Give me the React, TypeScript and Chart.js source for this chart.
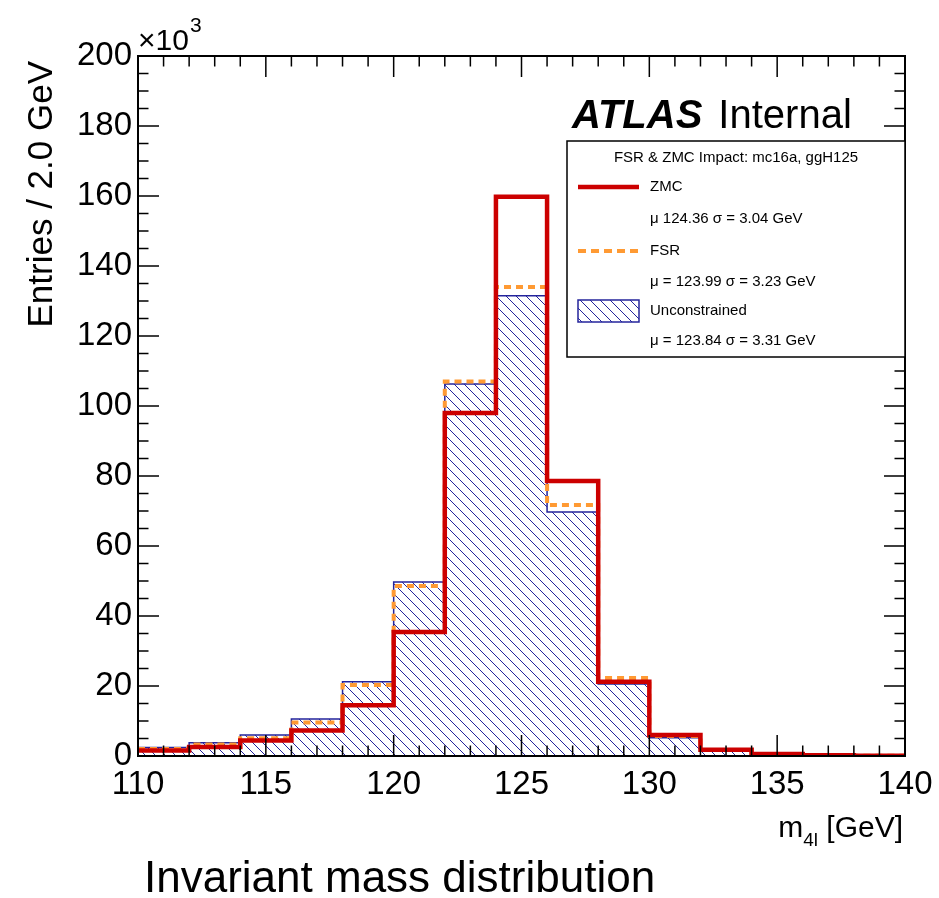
import React, { useEffect, useRef } from 'react';
import { Chart, registerables } from 'chart.js';

Chart.register(...registerables);

// Bin edges in GeV (2 GeV bins)
const binEdges = [110, 112, 114, 116, 118, 120, 122, 124, 126, 128, 130, 132, 134, 136, 138, 140];
// Entries per bin, in units of 10^3
const zmcValues = [1.6, 2.6, 4.4, 7.3, 14.5, 35.4, 98.0, 159.8, 78.6, 21.2, 6.0, 1.8, 0.6, 0.2, 0.1];
const fsrValues = [2.0, 3.3, 5.1, 9.6, 20.3, 48.6, 107.0, 134.0, 71.7, 22.3, 5.7, 1.7, 0.5, 0.2, 0.1];
const unconstrainedValues = [2.4, 3.8, 6.0, 10.6, 21.2, 49.7, 106.3, 131.5, 69.7, 20.6, 5.2, 1.5, 0.5, 0.2, 0.1];

const xMajorTicks = [110, 115, 120, 125, 130, 135, 140];
const yMajorTicks = [0, 20, 40, 60, 80, 100, 120, 140, 160, 180, 200];

const seriesNames = ['ZMC', 'FSR', 'Unconstrained'];
const seriesStats = ['\u03bc 124.36 \u03c3 = 3.04 GeV', '\u03bc = 123.99 \u03c3 = 3.23 GeV', '\u03bc = 123.84 \u03c3 = 3.31 GeV'];
const legendHeader = 'FSR & ZMC Impact: mc16a, ggH125';
const yTitle = 'Entries / 2.0 GeV';
const chartTitle = 'Invariant mass distribution';

const RED = '#cc0000';
const ORANGE = '#ff9a33';
const BLUE = '#24249c';
const FONT = "'Liberation Sans', Arial, Helvetica, sans-serif";

function toPoints(vals: number[]) {
  const pts = vals.map((v, i) => ({ x: binEdges[i], y: v }));
  pts.push({ x: binEdges[vals.length], y: vals[vals.length - 1] });
  return pts;
}

function makeHatch(): CanvasPattern | string {
  const s = 10;
  const c = document.createElement('canvas');
  c.width = s;
  c.height = s;
  const g = c.getContext('2d');
  if (!g) return BLUE;
  g.strokeStyle = BLUE;
  g.lineWidth = 1;
  g.beginPath();
  g.moveTo(0, 0);
  g.lineTo(s, s);
  g.moveTo(s - 1, -1);
  g.lineTo(s + 1, 1);
  g.moveTo(-1, s - 1);
  g.lineTo(1, s + 1);
  g.stroke();
  const p = g.createPattern(c, 'repeat');
  return p || BLUE;
}

const decorPlugin = {
  id: 'rootDecor',
  afterDraw(chart: any, _args: any, opts: any) {
    const ctx: CanvasRenderingContext2D = chart.ctx;
    const { left, right, top, bottom } = chart.chartArea;
    const xs = chart.scales.x;
    const ys = chart.scales.y;
    ctx.save();
    // frame
    ctx.strokeStyle = '#000';
    ctx.lineWidth = 2;
    ctx.strokeRect(left, top, right - left, bottom - top);
    // ticks
    ctx.lineWidth = 1.5;
    ctx.beginPath();
    for (let v = xs.min; v <= xs.max + 1e-9; v += 1) {
      const px = xs.getPixelForValue(v);
      const len = xMajorTicks.includes(v) ? 21 : 10.5;
      ctx.moveTo(px, bottom);
      ctx.lineTo(px, bottom - len);
      ctx.moveTo(px, top);
      ctx.lineTo(px, top + len);
    }
    for (let v = ys.min; v <= ys.max + 1e-9; v += 5) {
      const py = ys.getPixelForValue(v);
      const len = yMajorTicks.includes(v) ? 21 : 10.5;
      ctx.moveTo(left, py);
      ctx.lineTo(left + len, py);
      ctx.moveTo(right, py);
      ctx.lineTo(right - len, py);
    }
    ctx.stroke();

    ctx.fillStyle = '#000';
    ctx.textBaseline = 'alphabetic';
    // x10^3
    ctx.textAlign = 'left';
    ctx.font = `30px ${FONT}`;
    ctx.fillText('\u00d710', left, top - 6);
    const w10 = ctx.measureText('\u00d710').width;
    ctx.font = `21px ${FONT}`;
    ctx.fillText('3', left + w10 + 1, top - 24);

    // y title
    ctx.save();
    ctx.translate(52, top + 5);
    ctx.rotate(-Math.PI / 2);
    ctx.textAlign = 'right';
    ctx.font = `35px ${FONT}`;
    ctx.fillText(yTitle, 0, 0);
    ctx.restore();

    // x title: m_{4l} [GeV], right aligned
    ctx.font = `30px ${FONT}`;
    const wm = ctx.measureText('m').width;
    const wg = ctx.measureText(' [GeV]').width;
    ctx.font = `19px ${FONT}`;
    const ws = ctx.measureText('4l').width;
    const xEnd = right - 2;
    const xStart = xEnd - wg - ws - wm;
    const base = bottom + 81;
    ctx.font = `30px ${FONT}`;
    ctx.fillText('m', xStart, base);
    ctx.fillText(' [GeV]', xStart + wm + ws, base);
    ctx.font = `19px ${FONT}`;
    ctx.fillText('4l', xStart + wm, base + 9);

    // ATLAS Internal
    ctx.font = `italic bold 40px ${FONT}`;
    ctx.fillText('ATLAS', 572, 128);
    const wa = ctx.measureText('ATLAS').width;
    ctx.font = `40px ${FONT}`;
    ctx.fillText('Internal', 572 + wa + 16, 128);

    // bottom title
    ctx.font = `44px ${FONT}`;
    ctx.fillText(chartTitle, 144, 892);

    // legend box
    const lx0 = 567, ly0 = 141, lx1 = right, ly1 = 357;
    ctx.fillStyle = '#fff';
    ctx.fillRect(lx0, ly0, lx1 - lx0, ly1 - ly0);
    ctx.strokeStyle = '#000';
    ctx.lineWidth = 1.5;
    ctx.strokeRect(lx0, ly0, lx1 - lx0, ly1 - ly0);
    ctx.fillStyle = '#000';
    ctx.font = `15px ${FONT}`;
    ctx.textAlign = 'center';
    ctx.textBaseline = 'middle';
    ctx.fillText(legendHeader, (lx0 + lx1) / 2, 158);
    ctx.textAlign = 'left';
    const rows = [187, 251, 311];
    const statRows = [219, 282, 341];
    const sx0 = 578, sx1 = 639, tx = 650;
    // ZMC sample
    ctx.strokeStyle = RED;
    ctx.lineWidth = 4.5;
    ctx.setLineDash([]);
    ctx.beginPath();
    ctx.moveTo(sx0, rows[0]);
    ctx.lineTo(sx1, rows[0]);
    ctx.stroke();
    // FSR sample
    ctx.strokeStyle = ORANGE;
    ctx.lineWidth = 4;
    ctx.setLineDash([8, 5]);
    ctx.beginPath();
    ctx.moveTo(sx0, rows[1]);
    ctx.lineTo(sx1, rows[1]);
    ctx.stroke();
    ctx.setLineDash([]);
    // Unconstrained sample
    ctx.fillStyle = opts.hatch;
    ctx.fillRect(sx0, rows[2] - 11, sx1 - sx0, 22);
    ctx.strokeStyle = BLUE;
    ctx.lineWidth = 1.5;
    ctx.strokeRect(sx0, rows[2] - 11, sx1 - sx0, 22);
    ctx.fillStyle = '#000';
    for (let i = 0; i < 3; i++) {
      ctx.fillText(seriesNames[i], tx, rows[i]);
      ctx.fillText(seriesStats[i], tx, statRows[i]);
    }
    ctx.restore();
  },
};

export default function App() {
  const ref = useRef<HTMLCanvasElement>(null);
  useEffect(() => {
    if (!ref.current) return;
    const hatch = makeHatch();
    const chart = new Chart(ref.current, {
      type: 'line',
      data: {
        datasets: [
          {
            label: seriesNames[0],
            data: toPoints(zmcValues),
            borderColor: RED,
            borderWidth: 4.5,
            stepped: true,
            pointRadius: 0,
            fill: false,
          },
          {
            label: seriesNames[1],
            data: toPoints(fsrValues),
            borderColor: ORANGE,
            borderWidth: 4,
            borderDash: [7, 5],
            stepped: true,
            pointRadius: 0,
            fill: false,
          },
          {
            label: seriesNames[2],
            data: toPoints(unconstrainedValues),
            borderColor: BLUE,
            borderWidth: 1.5,
            backgroundColor: hatch as any,
            stepped: true,
            pointRadius: 0,
            fill: 'origin',
          },
        ],
      },
      options: {
        responsive: false,
        animation: false,
        layout: { padding: { left: 0, top: 56, right: 34, bottom: 0 } },
        plugins: {
          legend: { display: false },
          tooltip: { enabled: false },
          title: { display: false },
          rootDecor: { hatch },
        } as any,
        scales: {
          x: {
            type: 'linear',
            min: 110,
            max: 140,
            grid: { display: false, drawTicks: false },
            border: { display: false },
            afterFit: (s: any) => {
              s.height = 142;
              s.paddingLeft = 0;
              s.paddingRight = 0;
            },
            ticks: {
              stepSize: 5,
              autoSkip: false,
              maxRotation: 0,
              padding: 9,
              color: '#000',
              font: { family: FONT, size: 33 },
            },
          },
          y: {
            type: 'linear',
            min: 0,
            max: 200,
            grid: { display: false, drawTicks: false },
            border: { display: false },
            afterFit: (s: any) => {
              s.width = 138;
              s.paddingTop = 0;
              s.paddingBottom = 0;
            },
            ticks: {
              stepSize: 20,
              padding: 6,
              color: '#000',
              font: { family: FONT, size: 33 },
            },
          },
        },
      },
      plugins: [decorPlugin],
    });
    return () => chart.destroy();
  }, []);
  return (
    <div style={{ position: 'absolute', left: 0, top: 0, width: 939, height: 898, background: '#fff' }}>
      <canvas ref={ref} width={939} height={898} />
    </div>
  );
}
